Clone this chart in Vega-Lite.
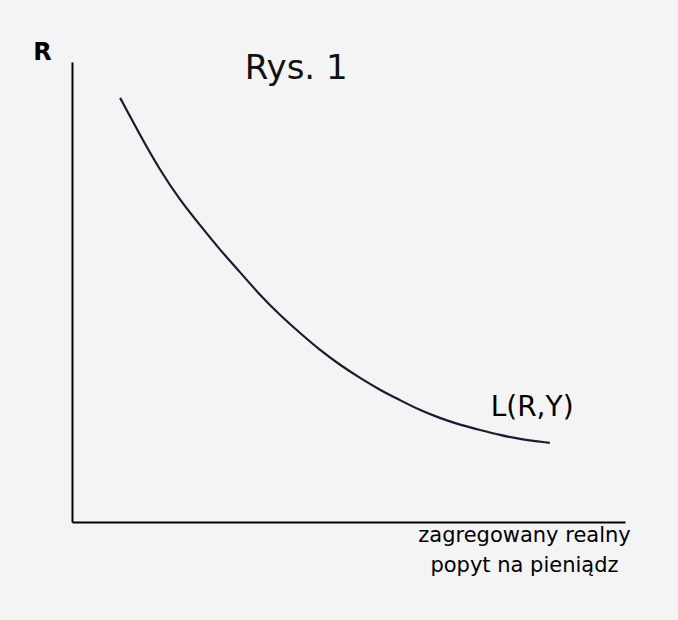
{
  "$schema": "https://vega.github.io/schema/vega-lite/v6.json",
  "width": 553,
  "height": 460,
  "autosize": {"type": "none"},
  "padding": {"left": 72, "top": 62, "right": 53, "bottom": 98},
  "background": "#f4f4f4",
  "config": {"view": {"stroke": null}, "font": "DejaVu Sans"},
  "title": {"text": "Rys. 1", "anchor": "start", "dx": 212, "dy": 50, "fontSize": 34, "fontWeight": "normal", "color": "#111111", "font": "DejaVu Sans"},
  "layer": [
    {
      "data": {"values": [
        {"x": 8.7, "y": 92.2}, {"x": 12.3, "y": 84.1}, {"x": 15.9, "y": 76.5}, {"x": 19.5, "y": 70.0},
        {"x": 23.1, "y": 64.6}, {"x": 26.8, "y": 59.1}, {"x": 30.4, "y": 54.3}, {"x": 34.0, "y": 49.3},
        {"x": 37.6, "y": 45.0}, {"x": 41.2, "y": 41.1}, {"x": 44.8, "y": 37.4}, {"x": 48.5, "y": 34.1},
        {"x": 52.1, "y": 31.3}, {"x": 55.7, "y": 28.7}, {"x": 59.3, "y": 26.5}, {"x": 62.9, "y": 24.3},
        {"x": 66.5, "y": 22.6}, {"x": 70.2, "y": 21.1}, {"x": 73.8, "y": 20.0}, {"x": 77.4, "y": 18.9},
        {"x": 81.0, "y": 18.0}, {"x": 86.4, "y": 17.2}
      ]},
      "mark": {"type": "line", "interpolate": "basis", "color": "#1c1a2e", "strokeWidth": 2.2},
      "encoding": {
        "x": {"field": "x", "type": "quantitative", "scale": {"domain": [0, 100]},
          "axis": {"domainColor": "#000000", "domainWidth": 2, "ticks": false, "labels": false, "grid": false,
            "title": ["zagregowany realny", "popyt na pieniądz"], "titleFontSize": 21, "titleFontWeight": "normal",
            "titleColor": "#000000", "titleX": 452, "titleY": 2, "titleAlign": "center", "titleBaseline": "top", "titleLineHeight": 30}},
        "y": {"field": "y", "type": "quantitative", "scale": {"domain": [0, 100]},
          "axis": {"domainColor": "#000000", "domainWidth": 2, "ticks": false, "labels": false, "grid": false,
            "title": "R", "titleAngle": 0, "titleFontSize": 24, "titleFontWeight": "bold", "titleColor": "#000000",
            "titleX": -30, "titleY": -10, "titleAlign": "center", "titleBaseline": "middle"}}
      }
    },
    {
      "data": {"values": [{"x": 83.2, "y": 24.8, "label": "L(R,Y)"}]},
      "mark": {"type": "text", "fontSize": 28, "color": "#000000", "align": "center", "baseline": "middle"},
      "encoding": {
        "x": {"field": "x", "type": "quantitative"},
        "y": {"field": "y", "type": "quantitative"},
        "text": {"field": "label"}
      }
    }
  ]
}
